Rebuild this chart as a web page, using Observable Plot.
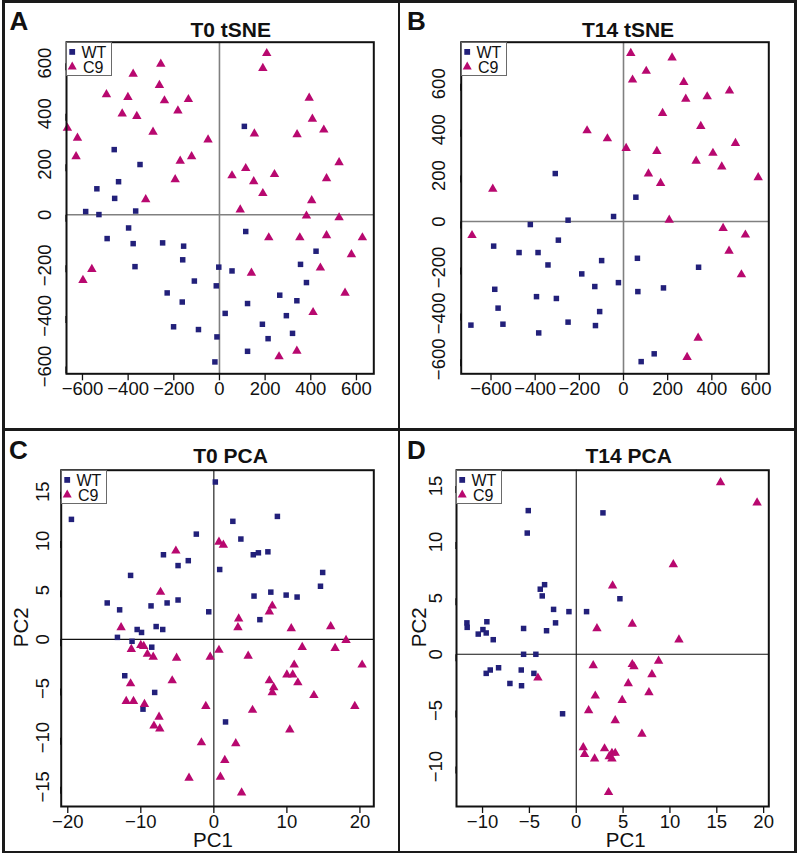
<!DOCTYPE html>
<html><head><meta charset="utf-8">
<script src="https://cdn.jsdelivr.net/npm/d3@7"></script>
<script src="https://cdn.jsdelivr.net/npm/@observablehq/plot@0.6"></script>
<style>
body{margin:0;background:#fff;font-family:"Liberation Sans",Arial,sans-serif;}
#fig{position:relative;width:800px;height:854px;overflow:hidden;background:#fff;}
.line{position:absolute;background:#1a1a1a;}
.legend{position:absolute;border:1px solid #6a6a6a;background:#fff;box-sizing:border-box;width:46px;height:34px;}
.legend svg{position:absolute;left:0;top:0;overflow:visible;}
</style></head><body><div id="fig"></div>
<script>
// ---------- data ----------
const groups = ["WT", "C9"];
const groupColors = ["#22207a", "#b8086f"];

const tsneTicks = [-600, -400, -200, 0, 200, 400, 600];
const pcaT0XTicks = [-20, -10, 0, 10, 20];
const pcaT0YTicks = [-15, -10, -5, 0, 5, 10, 15];
const pcaT14XTicks = [-10, -5, 0, 5, 10, 15, 20];
const pcaT14YTicks = [-10, -5, 0, 5, 10, 15];

const t0TsneWT = [[-461,258],[-348,199],[-442,131],[-537,103],[-459,65],[-586,13],[-528,1],[-367,15],[-398,-52],[-492,-94],[-378,-114],[-249,-111],[-157,-124],[-161,-178],[-370,-205],[-110,-262],[-229,-309],[-163,-345],[-201,-443],[-92,-454],[-3,-207],[-14,-281],[-11,-483],[-20,-582],[109,350],[115,-66],[423,-144],[355,-196],[55,-222],[381,-268],[264,-318],[339,-340],[123,-351],[25,-390],[293,-399],[188,-433],[320,-469],[213,-490],[123,-540]];
const t0TsneC9 = [[-666,343],[-622,304],[-628,231],[-495,476],[-378,557],[-401,465],[-426,400],[-362,390],[-257,597],[-263,513],[-241,452],[-291,328],[-182,412],[-136,457],[-50,297],[-172,213],[-122,231],[-194,140],[-323,61],[-559,-215],[-598,-259],[207,639],[190,580],[393,462],[407,379],[457,336],[340,318],[153,321],[524,207],[469,144],[115,184],[55,155],[150,132],[241,160],[190,85],[404,57],[91,20],[381,-4],[524,-11],[216,-90],[352,-90],[469,-82],[626,-90],[578,-157],[140,-230],[442,-210],[550,-309],[410,-386],[339,-539],[261,-561]];

const t14TsneWT = [[-309,209],[-251,6],[-45,22],[-422,-13],[-295,-81],[-588,-107],[-473,-135],[-387,-135],[-342,-189],[-189,-228],[-99,-170],[-130,-283],[-23,-266],[-583,-295],[-568,-377],[-394,-327],[-304,-335],[-108,-392],[-691,-451],[-546,-447],[-251,-438],[-127,-453],[-384,-485],[56,106],[63,-160],[340,-199],[65,-305],[181,-289],[139,-576],[80,-610]];
const t14TsneC9 = [[-165,396],[-73,361],[-592,142],[-686,-60],[33,733],[220,713],[103,655],[41,617],[273,607],[480,569],[282,534],[379,544],[177,472],[350,415],[507,341],[12,319],[151,306],[405,298],[329,264],[445,239],[610,192],[113,208],[168,167],[207,7],[451,-29],[552,-58],[478,-128],[534,-231],[338,-507],[288,-591]];

const t0PcaWT = [[-19.5,12.2],[-2.4,10.7],[-6.9,8.6],[-4.9,7.5],[-3.5,8.0],[-11.4,6.5],[-14.6,3.7],[-12.9,3.0],[-8.6,3.4],[-6.4,3.7],[-4.9,4.0],[-0.7,2.8],[-10.5,1.0],[-9.9,0.7],[-7.9,1.3],[-7.0,1.0],[-13.2,0.2],[-11.2,-0.2],[-8.5,-0.8],[-12.2,-3.7],[-8.1,-5.4],[-9.7,-7.1],[0.2,16.0],[0.8,7.1],[2.6,12.0],[8.7,12.5],[3.7,10.2],[5.4,8.6],[6.1,8.8],[7.4,8.9],[14.9,6.8],[14.6,5.4],[5.5,4.4],[7.8,4.8],[9.9,4.5],[11.4,4.3],[6.3,2.0],[1.6,-8.4]];
const t0PcaC9 = [[-5.2,9.0],[0.7,9.9],[1.3,9.6],[-7.3,4.8],[-12.7,1.2],[-11.3,-1.0],[-10.0,-0.6],[-9.6,-0.7],[-9.1,-1.5],[-8.3,-1.8],[-5.1,-1.9],[-0.5,-1.8],[0.7,-1.1],[-5.7,-4.2],[-11.4,-4.5],[-12.0,-6.3],[-11.0,-6.3],[-9.5,-6.6],[-7.5,-7.9],[-8.2,-8.8],[-7.4,-9.1],[-1.1,-6.8],[-1.7,-10.5],[-3.4,-14.1],[0.9,-14.0],[8.0,3.4],[7.6,2.8],[3.4,2.1],[3.3,1.2],[10.6,1.1],[16.0,1.3],[18.1,-0.1],[12.1,-0.8],[16.6,-0.9],[4.7,-1.7],[11.0,-2.6],[20.3,-2.6],[10.0,-3.6],[10.8,-3.6],[7.6,-4.2],[11.5,-4.4],[8.2,-4.9],[8.0,-5.4],[13.7,-5.7],[5.3,-7.2],[19.3,-6.8],[10.4,-9.2],[3.0,-10.6],[1.5,-12.3],[3.8,-15.6]];

const t14PcaWT = [[-5.12,12.8],[-5.23,10.8],[-3.38,6.2],[-3.84,5.8],[-3.63,5.2],[-2.42,4.0],[-0.78,3.8],[1.10,3.8],[-2.21,2.8],[-3.17,2.1],[-11.67,2.8],[-11.64,2.4],[-9.54,2.9],[-9.96,2.2],[-9.61,1.9],[-10.46,1.8],[-8.86,1.3],[-5.62,2.3],[-5.62,0.0],[-4.31,0.0],[-8.29,-1.2],[-9.18,-1.4],[-9.61,-1.7],[-5.87,-1.4],[-4.52,-1.7],[-7.08,-2.6],[-5.84,-2.8],[-1.46,-5.3],[2.85,12.6],[4.66,4.95]];
const t14PcaC9 = [[3.88,6.1],[2.21,2.3],[-4.09,-2.1],[1.81,-1.0],[2.03,-3.7],[1.32,-5.0],[4.16,-5.9],[4.9,-4.1],[0.75,-8.3],[0.89,-8.9],[1.96,-9.3],[3.02,-8.4],[3.52,-9.1],[3.81,-8.8],[3.81,-9.3],[4.16,-8.8],[3.45,-12.3],[15.4,15.3],[19.3,13.5],[10.36,8.0],[5.98,2.7],[10.96,1.3],[5.98,-0.9],[6.16,-1.1],[8.79,-0.6],[8.08,-1.8],[5.55,-2.6],[7.76,-3.4],[7.01,-7.1]];

// ---------- layout ----------
const FONT = "'Liberation Sans', Arial, Helvetica, sans-serif";
const panels = [
  {letter:"A", title:"T0 tSNE", wt:t0TsneWT, c9:t0TsneC9, left:0, top:0, w:400, h:428,
   m:{l:66, r:26.7, t:41.7, b:54.7}, xd:[-670,676], yd:[-629,683], xt:tsneTicks, yt:tsneTicks,
   zero:"#808080", zw:1.6, yOff:21, titleDx:10.5, titleDy:-11.7, letterDx:-47.5, letterDy:-20.7},
  {letter:"B", title:"T14 tSNE", wt:t14TsneWT, c9:t14TsneC9, left:400, top:0, w:400, h:428,
   m:{l:60.7, r:31.7, t:41.7, b:54.7}, xd:[-735,658], yd:[-663,781], xt:tsneTicks, yt:tsneTicks,
   zero:"#808080", zw:1.6, yOff:22, titleDx:13, titleDy:-11.7, letterDx:-44.7, letterDy:-20.7},
  {letter:"C", title:"T0 PCA", wt:t0PcaWT, c9:t0PcaC9, left:0, top:428, w:400, h:426,
   m:{l:60.7, r:26.7, t:41.7, b:48}, xd:[-20.9,21.9], yd:[-17.0,17.2], xt:pcaT0XTicks, yt:pcaT0YTicks,
   zero:"#111", zw:1.1, yOff:18, titleDx:13, titleDy:-13.7, letterDx:-42.7, letterDy:-19.2,
   xLabel:"PC1", yLabel:"PC2", xlDx:-4.5, ylDx:-39.7},
  {letter:"D", title:"T14 PCA", wt:t14PcaWT, c9:t14PcaC9, left:400, top:428, w:400, h:426,
   m:{l:56, r:31.7, t:41.7, b:48}, xd:[-12.78,20.55], yd:[-13.56,16.4], xt:pcaT14XTicks, yt:pcaT14YTicks,
   zero:"#111", zw:1.1, yOff:20.5, titleDx:16, titleDy:-13.7, letterDx:-40, letterDy:-19.2,
   xLabel:"PC1", yLabel:"PC2", xlDx:13, ylDx:-37}
];

const fig = document.getElementById("fig");

function makePanel(p) {
  const wt = p.wt.map(([x, y]) => ({x, y, g: groups[0]}));
  const c9 = p.c9.map(([x, y]) => ({x, y, g: groups[1]}));
  const marks = [
    Plot.ruleX([0], {stroke: p.zero, strokeWidth: p.zw}),
    Plot.ruleY([0], {stroke: p.zero, strokeWidth: p.zw}),
    Plot.dot(wt, {x: "x", y: "y", symbol: "square", r: 3.1, fill: groupColors[0], stroke: null}),
    Plot.dot(c9, {x: "x", y: "y", symbol: "triangle", r: 3.5, fill: groupColors[1], stroke: null}),
    Plot.frame({stroke: "#111", strokeWidth: 2}),
    Plot.axisX({ticks: p.xt, tickSize: 7, tickPadding: 1, fontSize: 18.5, label: null, strokeWidth: 1.3}),
    Plot.axisY({ticks: p.yt, tickSize: 7, tickPadding: p.yOff - 7, rotate: -90, textAnchor: "middle", lineAnchor: "middle", fontSize: 18.5, label: null, strokeWidth: 1.3}),
    Plot.text([p.title], {text: d => d, frameAnchor: "top", textAnchor: "middle", lineAnchor: "middle", dx: p.titleDx, dy: p.titleDy, fontSize: 21, fontWeight: "bold", fill: "#111"}),
    Plot.text([p.letter], {text: d => d, frameAnchor: "top-left", textAnchor: "middle", lineAnchor: "middle", dx: p.letterDx, dy: p.letterDy, fontSize: 26, fontWeight: "bold", fill: "#111"})
  ];
  if (p.xLabel) {
    marks.push(Plot.text([p.xLabel], {text: d => d, frameAnchor: "bottom", textAnchor: "middle", lineAnchor: "middle", dx: p.xlDx, dy: 34, fontSize: 20.5, fill: "#111"}));
    marks.push(Plot.text([p.yLabel], {text: d => d, frameAnchor: "left", textAnchor: "middle", lineAnchor: "middle", dx: p.ylDx, dy: -11, rotate: -90, fontSize: 20.5, fill: "#111"}));
  }
  const svg = Plot.plot({
    width: p.w, height: p.h,
    marginLeft: p.m.l, marginRight: p.m.r, marginTop: p.m.t, marginBottom: p.m.b,
    x: {domain: p.xd}, y: {domain: p.yd},
    style: {background: "transparent", overflow: "visible", fontFamily: FONT, color: "#111", maxWidth: "none"},
    marks
  });
  svg.style.position = "absolute";
  svg.style.left = p.left + "px";
  svg.style.top = p.top + "px";
  fig.appendChild(svg);

  // legend box (top-left of the plot frame)
  const lg = document.createElement("div");
  lg.className = "legend";
  lg.style.left = (p.left + p.m.l) + "px";
  lg.style.top = (p.top + p.m.t) + "px";
  lg.innerHTML = `<svg width="46" height="34" style="font-family:${FONT}">
    <rect x="2.3" y="6" width="5.8" height="5.8" fill="${groupColors[0]}"/>
    <path d="M5.2,18.6 L9.7,26.4 L0.7,26.4 Z" fill="${groupColors[1]}"/>
    <text x="14.5" y="14.8" font-size="16" fill="#111">${groups[0]}</text>
    <text x="16" y="29.6" font-size="16" fill="#111">${groups[1]}</text>
  </svg>`;
  fig.appendChild(lg);
}
panels.forEach(makePanel);

// figure borders and dividers
const lines = [
  [2, 0, 795, 2.5], [2, 850.5, 795, 2.5], [2, 0, 2.5, 853], [794.3, 0, 2.5, 853],
  [397.5, 0, 2.5, 853], [2, 428, 795, 2.5]
];
for (const [l, t, w, h] of lines) {
  const d = document.createElement("div");
  d.className = "line";
  Object.assign(d.style, {left: l + "px", top: t + "px", width: w + "px", height: h + "px"});
  fig.appendChild(d);
}
</script></body></html>
